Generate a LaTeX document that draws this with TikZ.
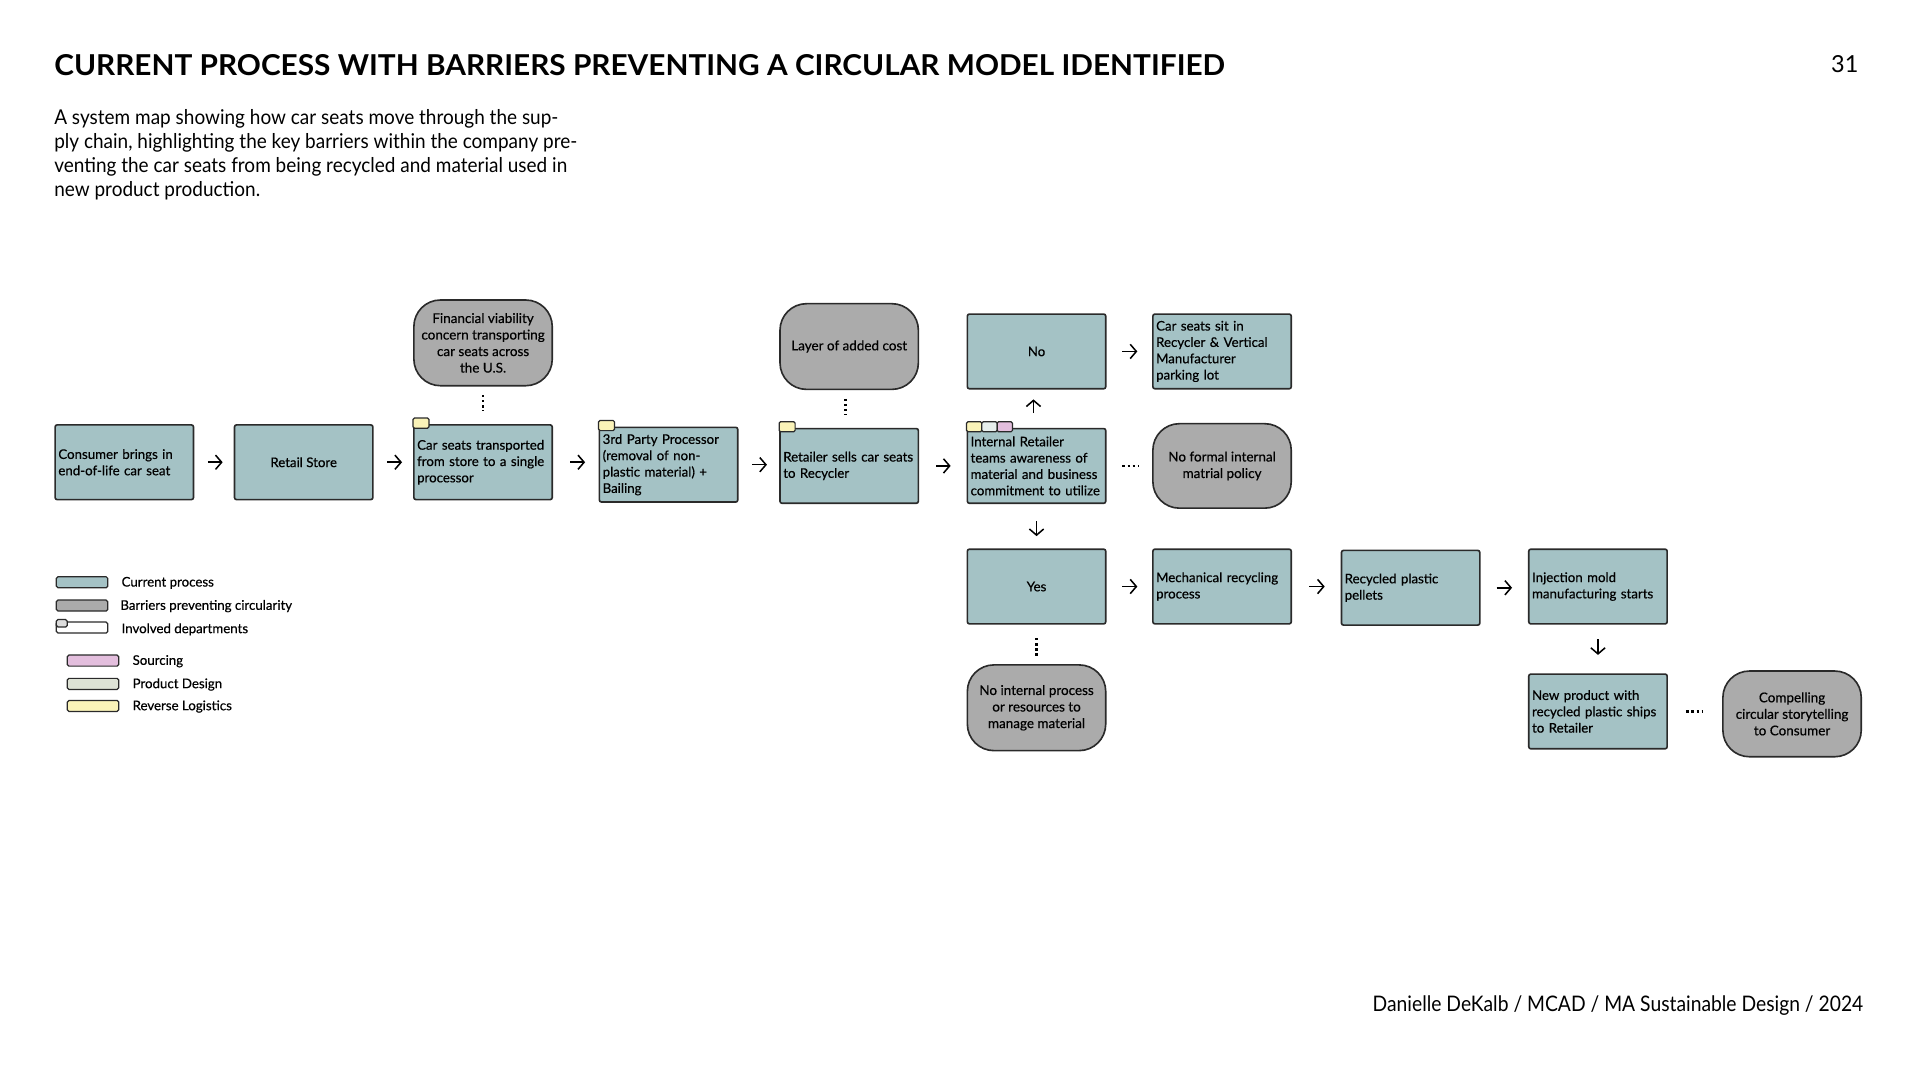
\documentclass[tikz,border=0pt]{standalone}
\usepackage{fontspec}
\setmainfont{Lato}
\newfontfamily\narrowfont[FakeStretch=0.93]{Lato}
\newfontfamily\footfont[FakeStretch=0.9]{Lato}
\newfontfamily\boxfont[FakeBold=0.5]{Lato}
\usetikzlibrary{arrows.meta,calc}
\definecolor{proc}{HTML}{A4C2C5}
\definecolor{barr}{HTML}{ABABAB}
\definecolor{edgec}{HTML}{2A2A2A}
\definecolor{rl}{HTML}{FAF3B8}
\definecolor{pd}{HTML}{E6EEEC}
\definecolor{pdleg}{HTML}{DDE2D5}
\definecolor{src}{HTML}{E3BEDD}
\definecolor{tabgray}{HTML}{DDDDDD}
\begin{document}
\begin{tikzpicture}[x=0.6pt,y=-0.6pt,
  proc/.style={draw=edgec, line width=0.8pt, fill=proc, rounded corners=1pt,
    minimum width=67.8pt, minimum height=36.6pt, inner sep=0pt,
    font=\boxfont\fontsize{6.5}{8}\selectfont},
  procl/.style={proc, text width=64.6pt, align=left},
  procc/.style={proc, align=center},
  barrier/.style={draw=edgec, line width=0.8pt, fill=barr, rounded corners=13pt,
    minimum width=67.8pt, minimum height=42pt, inner sep=0pt, align=center,
    font=\boxfont\fontsize{6.6}{8.1}\selectfont},
  tabst/.style={draw=edgec, line width=0.6pt, rounded corners=0.7pt},
  swatch/.style={draw=edgec, line width=0.6pt, rounded corners=0.8pt},
  legtext/.style={anchor=west, inner sep=0pt, font=\boxfont\fontsize{6.5}{7}\selectfont},
  arr/.style={draw=black, line width=0.75pt, -{Straight Barb[length=3pt,width=7pt]}},
  dots/.style={draw=black, line width=1.1pt, dash pattern=on 1.1pt off 1.4pt},
]
\useasboundingbox (0,0) rectangle (1568,881);

% header
\node[anchor=base west, inner sep=0pt] (title) at (44,61.8)
  {\resizebox{573.6pt}{10.3pt}{\bfseries CURRENT PROCESS WITH BARRIERS PREVENTING A CIRCULAR MODEL IDENTIFIED}};
\node[anchor=base east, inner sep=0pt, font=\fontsize{11.5}{12}\selectfont] (pagenum) at (1518,59) {31};
\node[anchor=north west, inner sep=0pt, align=left, font=\narrowfont\fontsize{10}{11.7}\selectfont] (desc) at (44,89)
  {A system map showing how car seats move through the sup-\\
   ply chain, highlighting the key barriers within the company pre-\\
   venting the car seats from being recycled and material used in\\
   new product production.};
\node[anchor=base east, inner sep=0pt, font=\footfont\fontsize{10.5}{12}\selectfont] (footer) at (1522,826)
  {Danielle DeKalb / MCAD / MA Sustainable Design / 2024};

% process row
\node[procl] (consumer) at (101.5,377.5) {Consumer brings in\\end-of-life car seat};
\node[procc] (retail) at (248,377.5) {Retail Store};
\node[procl] (transported) at (394.5,377.5) {Car seats transported\\from store to a single\\processor};
\node[procl] (thirdparty) at (546,379.5) {3rd Party Processor\\(removal of non-\\plastic material) +\\Bailing};
\node[procl] (sells) at (693.5,380.5) {Retailer sells car seats\\to Recycler};
\node[procl] (internal) at (846.5,380.5) {Internal Retailer\\teams awareness of\\material and business\\commitment to utilize};
\node[barrier, minimum height=41.4pt] (noformal) at (998,380.5) {No formal internal\\matrial policy};

\node[barrier] (financial) at (394.5,280) {Financial viability\\concern transporting\\car seats across\\the U.S.};
\node[barrier] (layer) at (693.5,283) {Layer of added cost};

\node[procc] (no) at (846.5,287) {No};
\node[procl] (sit) at (998,287) {Car seats sit in\\Recycler \& Vertical\\Manufacturer\\parking lot};

\node[procc] (yes) at (846.5,479) {Yes};
\node[procl] (mech) at (998,479) {Mechanical recycling\\process};
\node[procl] (pellets) at (1152,480) {Recycled plastic\\pellets};
\node[procl] (injection) at (1305,479) {Injection mold\\manufacturing starts};

\node[barrier] (nointernal) at (846.5,578) {No internal process\\or resources to\\manage material};
\node[procl] (newproduct) at (1305,581) {New product with\\recycled plastic ships\\to Retailer};
\node[barrier] (compelling) at (1463.5,583) {Compelling\\circular storytelling\\to Consumer};

% department tabs
\draw[tabst, fill=rl] ([yshift=-2pt]transported.north west) rectangle ++(13,-8.3);
\draw[tabst, fill=rl] ([yshift=-2pt]thirdparty.north west) rectangle ++(13,-8.3);
\draw[tabst, fill=rl] ([yshift=-2pt]sells.north west) rectangle ++(13,-8.3);
\draw[tabst, fill=rl] ([yshift=-2pt]internal.north west) rectangle ++(12.5,-8.3);
\draw[tabst, fill=pd] ([yshift=-2pt,xshift=7.5pt]internal.north west) rectangle ++(12.5,-8.3);
\draw[tabst, fill=src] ([yshift=-2pt,xshift=15pt]internal.north west) rectangle ++(12.5,-8.3);

% arrows
\draw[arr, shorten <=6.6pt, shorten >=5.4pt] (consumer) -- (retail);
\draw[arr, shorten <=6.6pt, shorten >=5.4pt] (retail) -- (transported);
\draw[arr, shorten <=8.4pt, shorten >=6.6pt] (transported.east) -- (transported.east -| thirdparty.west);
\draw[arr, shorten <=6.6pt, shorten >=6pt] (thirdparty.east) -- (thirdparty.east -| sells.west);
\draw[arr, shorten <=8.4pt, shorten >=7.8pt] (sells.east) -- (sells.east -| internal.west);
\draw[arr, shorten <=7.8pt, shorten >=7.2pt] (no) -- (sit);
\draw[arr, shorten <=7.8pt, shorten >=7.2pt] (yes) -- (mech);
\draw[arr, shorten <=8.4pt, shorten >=7.8pt] (mech.east) -- (mech.east -| pellets.west);
\draw[arr, shorten <=7.8pt, shorten >=7.8pt] (pellets.east) -- (pellets.east -| injection.west);
\draw[arr, shorten <=7.2pt, shorten >=4.8pt] ([xshift=-1.5pt]internal.north) -- ([xshift=-1.5pt]no.south);
\draw[arr, shorten <=8.4pt, shorten >=6pt] (internal) -- (yes);
\draw[arr, shorten <=7.2pt, shorten >=9pt] (injection) -- (newproduct);

% dotted links
\draw[dots, shorten <=4.2pt, shorten >=6.6pt] (financial) -- (transported);
\draw[dots, shorten <=4.2pt, shorten >=6.6pt] ([xshift=-1.8pt]layer.south) -- ([xshift=-1.8pt]sells.north);
\draw[dots, shorten <=7.8pt, shorten >=6.6pt] (internal.east) -- (internal.east -| noformal.west);
\draw[dots, shorten <=6.6pt, shorten >=3.6pt] (yes) -- (nointernal);
\draw[dots, shorten <=9pt, shorten >=9.6pt] (newproduct.east) -- (newproduct.east -| compelling.west);

% legend
\draw[swatch, fill=proc] (46,471) rectangle (88,480);
\node[legtext] (lg1) at (99,476) {Current process};
\draw[swatch, fill=barr] (46,490) rectangle (88,499);
\node[legtext] (lg2) at (98,495) {Barriers preventing circularity};
\draw[swatch, fill=white] (46,508) rectangle (88,517);
\draw[swatch, fill=tabgray] (46,506) rectangle (55,512);
\node[legtext] (lg3) at (99,514) {Involved departments};
\draw[swatch, fill=src] (55,535) rectangle (97,544);
\node[legtext] (lg4) at (108,540) {Sourcing};
\draw[swatch, fill=pdleg] (55,554) rectangle (97,563);
\node[legtext] (lg5) at (108,559) {Product Design};
\draw[swatch, fill=rl] (55,572) rectangle (97,581);
\node[legtext] (lg6) at (108,577) {Reverse Logistics};
\end{tikzpicture}
\end{document}
